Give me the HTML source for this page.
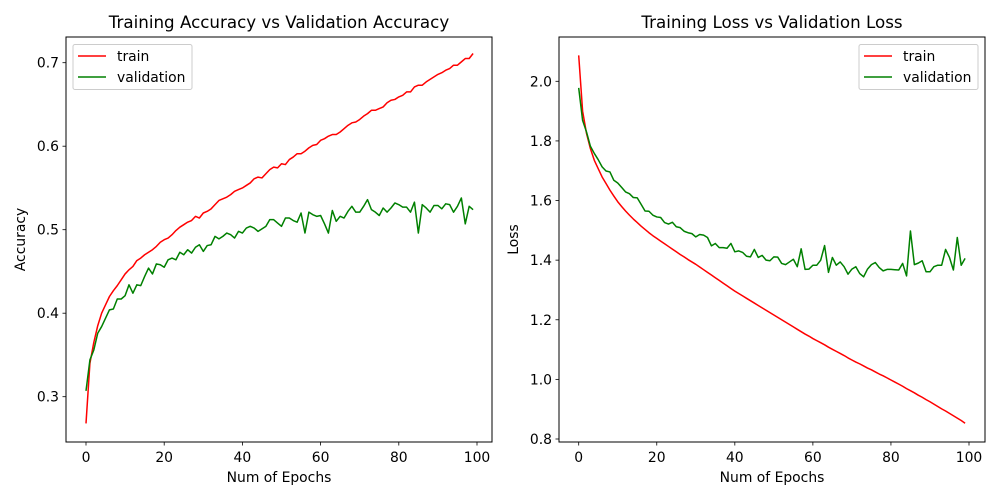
<!DOCTYPE html>
<html><head><meta charset="utf-8"><style>
html,body{margin:0;padding:0;background:#fff;}
svg{display:block;font-family:"DejaVu Sans","Liberation Sans",sans-serif;}
</style></head><body>
<svg id="fig" width="1000" height="500" viewBox="0 0 1000 500"></svg>
<script>
const epochs = Array.from({length:100},(_,i)=>i);
const trainAcc = [.268,.340,.365,.385,.400,.410,.420,.427,.433,.440,
.447,.452,.456,.463,.466,.470,.473,.476,.480,.485,
.488,.490,.494,.499,.503,.506,.509,.511,.516,.514,
.520,.522,.525,.530,.535,.537,.539,.542,.546,.548,
.550,.553,.556,.561,.563,.562,.567,.572,.575,.574,
.579,.578,.584,.587,.591,.591,.594,.598,.601,.602,
.607,.609,.612,.614,.614,.617,.621,.625,.628,.629,
.632,.636,.639,.643,.643,.645,.647,.652,.655,.656,
.659,.661,.665,.665,.671,.673,.673,.677,.680,.683,
.686,.688,.691,.693,.697,.697,.701,.705,.705,.711];
const valAcc = [.307,.344,.356,.376,.384,.394,.404,.405,.417,.417,
.421,.434,.424,.434,.433,.444,.454,.447,.459,.458,
.455,.464,.466,.464,.473,.470,.476,.472,.479,.482,
.474,.481,.482,.492,.489,.492,.496,.494,.490,.498,
.496,.502,.504,.502,.498,.501,.504,.512,.512,.508,
.504,.514,.514,.511,.509,.520,.496,.521,.518,.516,
.517,.507,.496,.523,.510,.516,.514,.522,.528,.521,
.521,.528,.536,.524,.521,.517,.526,.521,.526,.532,
.530,.527,.527,.521,.533,.496,.530,.526,.521,.529,
.529,.525,.531,.530,.521,.528,.538,.507,.528,.524];
const trainLoss = [2.087,1.900,1.825,1.774,1.735,1.707,1.679,1.657,1.635,1.615,
1.596,1.580,1.565,1.551,1.538,1.526,1.514,1.503,1.492,1.482,
1.473,1.464,1.455,1.446,1.437,1.428,1.419,1.411,1.402,1.394,
1.386,1.377,1.368,1.359,1.350,1.341,1.332,1.323,1.314,1.305,
1.296,1.288,1.280,1.272,1.264,1.256,1.248,1.240,1.232,1.224,
1.216,1.208,1.200,1.192,1.184,1.176,1.168,1.160,1.152,1.145,
1.137,1.130,1.123,1.116,1.108,1.101,1.094,1.087,1.080,1.072,
1.065,1.058,1.052,1.045,1.038,1.032,1.025,1.018,1.012,1.005,
0.998,0.991,0.984,0.977,0.969,0.962,0.955,0.947,0.940,0.932,
0.925,0.917,0.909,0.901,0.894,0.886,0.878,0.870,0.862,0.853];
const valLoss = [1.978,1.869,1.830,1.782,1.758,1.737,1.713,1.699,1.696,1.668,
1.659,1.644,1.629,1.623,1.610,1.609,1.587,1.565,1.564,1.551,
1.545,1.543,1.526,1.521,1.527,1.512,1.509,1.497,1.492,1.489,
1.478,1.486,1.484,1.476,1.448,1.456,1.442,1.442,1.440,1.456,
1.428,1.431,1.426,1.413,1.411,1.436,1.409,1.416,1.400,1.398,
1.411,1.410,1.389,1.385,1.394,1.403,1.378,1.438,1.369,1.370,
1.383,1.383,1.400,1.449,1.359,1.409,1.383,1.394,1.378,1.353,
1.370,1.378,1.355,1.344,1.370,1.385,1.392,1.375,1.364,1.369,
1.369,1.368,1.367,1.389,1.347,1.498,1.385,1.390,1.398,1.361,
1.361,1.378,1.383,1.383,1.436,1.409,1.367,1.476,1.383,1.406];
const xTicks = [0,20,40,60,80,100];
const accTicks = [0.3,0.4,0.5,0.6,0.7];
const lossTicks = [0.8,1.0,1.2,1.4,1.6,1.8,2.0];

const NS='http://www.w3.org/2000/svg';
const svg=document.getElementById('fig');
function mk(tag,attrs,parent){const e=document.createElementNS(NS,tag);for(const k in attrs)e.setAttribute(k,attrs[k]);(parent||svg).appendChild(e);return e;}
const FS=13.9, TFS=16.7;

function chart(cfg){
  const g=mk('g',{});
  
  
  const X=v=>cfg.x0px+(v-0)*(cfg.x100px-cfg.x0px)/100;
  const Y=v=>cfg.yAp+(v-cfg.yA)*(cfg.yBp-cfg.yAp)/(cfg.yB-cfg.yA);
  const box=mk('rect',{x:cfg.L,y:cfg.T,width:cfg.R-cfg.L,height:cfg.B-cfg.T,fill:'none',stroke:'#000','stroke-width':1},g);
  
  
  const series=[{d:cfg.train,c:'#ff0000',n:'train-line'},{d:cfg.val,c:'#008000',n:'validation-line'}];
  series.forEach(s=>{
    const p=mk('polyline',{points:s.d.map((v,i)=>X(epochs[i]).toFixed(2)+','+Y(v).toFixed(2)).join(' '),fill:'none',stroke:s.c,'stroke-width':1.5,'stroke-linejoin':'round'},g);
    
    
  });
  xTicks.forEach(t=>{
    const x=X(t);
    mk('line',{x1:x,y1:cfg.B,x2:x,y2:cfg.B+3.5,stroke:'#000','stroke-width':0.8},g);
    const tx=mk('text',{x:x,y:cfg.B+20,'font-size':FS,'text-anchor':'middle',fill:'#000'},g);
    tx.textContent=t;
    
    
  });
  cfg.yTicks.forEach(t=>{
    const y=Y(t);
    mk('line',{x1:cfg.L-3.5,y1:y,x2:cfg.L,y2:y,stroke:'#000','stroke-width':0.8},g);
    const tx=mk('text',{x:cfg.L-7,y:y+5,'font-size':FS,'text-anchor':'end',fill:'#000'},g);
    tx.textContent=t.toFixed(1);
    
    
  });
  const title=mk('text',{x:(cfg.L+cfg.R)/2,y:cfg.T-9,'font-size':TFS,'text-anchor':'middle',fill:'#000'},g);
  title.textContent=cfg.title;
  
  
  const xl=mk('text',{x:(cfg.L+cfg.R)/2,y:482,'font-size':FS,'text-anchor':'middle',fill:'#000'},g);
  xl.textContent='Num of Epochs';
  
  
  const yl=mk('text',{x:0,y:0,'font-size':FS,'text-anchor':'middle',fill:'#000',transform:`translate(${cfg.ylx},${(cfg.T+cfg.B)/2}) rotate(-90)`},g);
  yl.textContent=cfg.ylabel;
  
  
  const lg=mk('g',{},g);
  
  
  mk('rect',{x:cfg.lgx,y:44.5,width:119,height:45,rx:2,fill:'#fff','fill-opacity':0.8,stroke:'#ccc','stroke-width':1},lg);
  [['train','#ff0000',56],['validation','#008000',77]].forEach(([n,c,y])=>{
    const le=mk('g',{},lg);
    
    
    mk('line',{x1:cfg.lgx+5,y1:y,x2:cfg.lgx+33,y2:y,stroke:c,'stroke-width':1.5},le);
    const t=mk('text',{x:cfg.lgx+44,y:y+5,'font-size':FS,fill:'#000'},le);
    t.textContent=n;
  });
}
chart({name:'accuracy-chart',L:66,R:492,T:37,B:442,x0px:86,x100px:477,yA:0.7,yAp:62.7,yB:0.3,yBp:396.7,
  train:trainAcc,val:valAcc,yTicks:accTicks,title:'Training Accuracy vs Validation Accuracy',ylabel:'Accuracy',ylx:25,lgx:73});
chart({name:'loss-chart',L:559,R:985,T:37,B:442,x0px:578.7,x100px:969,yA:2.0,yAp:81.3,yB:0.8,yBp:439,
  train:trainLoss,val:valLoss,yTicks:lossTicks,title:'Training Loss vs Validation Loss',ylabel:'Loss',ylx:518,lgx:859});
</script>
</body></html>
